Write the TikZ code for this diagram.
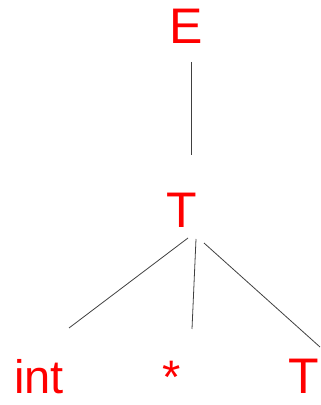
\documentclass[tikz,border=0pt]{standalone}
\usepackage{fontspec}
\setmainfont{Liberation Sans}
\begin{document}
\begin{tikzpicture}[x=1pt,y=1pt,
  lbl/.style={text=red,inner sep=0pt,anchor=base,font=\fontsize{50}{60}\selectfont},
  edge/.style={draw=black!75,line width=0.8pt}]
\useasboundingbox (0,0) rectangle (321,405);
\node[lbl] (E) at (186,361) {E};
\node[lbl] (T) at (181.5,177) {T};
\node[lbl,font=\fontsize{47}{56}\selectfont] (int) at (39,11) {int};
\node[lbl,font=\fontsize{47}{56}\selectfont] (star) at (172,12) {*};
\node[lbl] (T2) at (304,11) {T};
\coordinate (e1) at (191,343);
\coordinate (e2) at (191,250);
\coordinate (a1) at (188,167);
\coordinate (a2) at (69,77);
\coordinate (b1) at (196,166);
\coordinate (b2) at (192,76);
\coordinate (c1) at (204,162);
\coordinate (c2) at (320,58);
\draw[edge] (e1) -- (e2);
\draw[edge] (a1) -- (a2);
\draw[edge] (b1) -- (b2);
\draw[edge] (c1) -- (c2);
\end{tikzpicture}
\end{document}
